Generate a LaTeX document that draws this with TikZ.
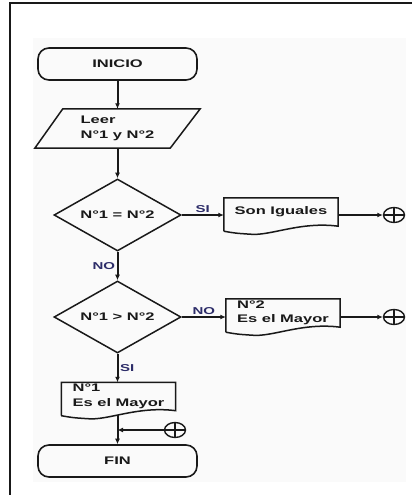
\documentclass[tikz,border=0pt]{standalone}
\usepackage{fontspec}
\newfontfamily\dfont{Liberation Sans Bold}[FakeStretch=1.5]
\usetikzlibrary{arrows.meta,shapes.geometric,calc}
\definecolor{ink}{RGB}{25,25,25}
\definecolor{lblc}{RGB}{45,45,105}
\definecolor{bgc}{RGB}{250,250,250}
\newcommand\docpath[1]{%
  \draw[docline] ($(#1.south west)+(0,5)$) -- (#1.north west) -- (#1.north east) -- (#1.south east)
    .. controls ($(#1.south east)+(-38,-5)$) and ($(#1.south east)+(-68,10)$) .. ($(#1.south east)+(-88,8)$)
    .. controls ($(#1.south east)+(-103,7)$) .. ($(#1.south west)+(0,5)$);}
\begin{document}
\begin{tikzpicture}[x=1pt,y=-1pt,
 txt/.style={font=\dfont\fontsize{11}{14.5}\selectfont, text=ink},
 term/.style={txt, draw=ink, line width=1.6pt, rounded corners=11pt, minimum width=159pt, minimum height=32pt, inner sep=0pt},
 iobox/.style={txt, inner sep=0pt, minimum width=165pt, minimum height=39pt},
 decision/.style={txt, draw=ink, line width=1.5pt, diamond, aspect=1.76, inner sep=0pt, minimum width=127pt, minimum height=72pt},
 docbox/.style={txt, inner sep=0pt, minimum width=114pt, minimum height=28pt},
 docline/.style={draw=ink, line width=1.5pt},
 conn/.style={ellipse, draw=ink, line width=1.4pt, minimum width=21pt, minimum height=15pt, inner sep=0pt},
 arr/.style={draw=ink, line width=2pt, -{Latex[length=5.5pt,width=5pt]}},
 lbl/.style={font=\dfont\fontsize{10}{11}\selectfont, text=lblc, inner sep=1.5pt}
]
\useasboundingbox (0,0) rectangle (412,495);
\fill[bgc] (33,38) rectangle (406,482);
\draw[line width=2pt, ink] (9.5,495) -- (9.5,3.5) -- (412,3.5);

\node[term] (inicio) at (117.5,64) {INICIO};
\node[iobox, align=left] (leer) at (117.5,128.5) {Leer\\N°1 y N°2};
\draw[docline] ($(leer.north west)+(28,0)$) -- (leer.north east) -- ($(leer.south east)+(-30,0)$) -- (leer.south west) -- cycle;
\node[decision] (d1) at (117.5,215) {N°1 = N°2};
\node[decision] (d2) at (117.5,317) {N°1 > N°2};
\node[docbox] (s1) at (281,212) {Son Iguales};
\node[docbox, align=left] (s2) at (283,313) {N°2\\Es el Mayor};
\node[docbox, align=left] (s3) at (118.5,396.5) {N°1\\Es el Mayor};
\node[term] (fin) at (117.5,461) {FIN};
\node[conn] (c1) at (394,215) {};
\node[conn] (c2) at (394,317) {};
\node[conn] (c3) at (175,430) {};
\coordinate (j) at (117.5,430);

\docpath{s1}
\docpath{s2}
\docpath{s3}
\foreach \c in {c1,c2,c3} {\draw[ink, line width=1.3pt] (\c.north) -- (\c.south) (\c.west) -- (\c.east);}

\draw[arr] (inicio) -- (leer);
\draw[arr] (leer) -- (d1);
\draw[arr] (d1) -- node[lbl, left]{NO} (d2);
\draw[arr] (d2.south) -- node[lbl, right]{SI} (d2.south |- s3.north);
\draw[arr] (d1.east) -- node[lbl, above]{SI} (d1.east -| s1.west);
\draw[arr] (d2.east) -- node[lbl, above]{NO} (d2.east -| s2.west);
\draw[arr] (s1.east |- c1.west) -- (c1.west);
\draw[arr] (s2.east |- c2.west) -- (c2.west);
\draw[arr] ($(j |- s3.south)+(0,4)$) -- (fin.north);
\draw[arr] (c3.west) -- (j);
\end{tikzpicture}
\end{document}
